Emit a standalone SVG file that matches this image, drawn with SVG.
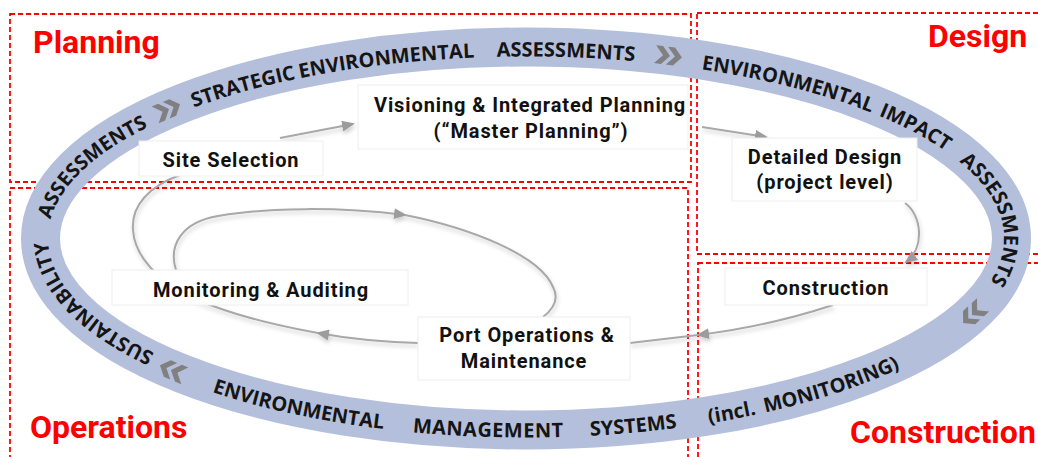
<svg xmlns="http://www.w3.org/2000/svg" xmlns:xlink="http://www.w3.org/1999/xlink" width="1038" height="457" viewBox="0 0 1038 457">
  <style>
    .zone { fill: none; stroke: #ff0000; stroke-width: 1.8; stroke-dasharray: 5 3; }
    .title { font-family: Roboto, "Liberation Sans", sans-serif; font-weight: 700; font-size: 32px; fill: #ff0000; }
    .band { fill: none; stroke: #b4bfdc; stroke-width: 39; }
    .btxt { font-family: "Open Sans", "Liberation Sans", sans-serif; font-weight: 700; font-size: 20px; fill: #151515; letter-spacing: 0px; }
    .chev { fill: #808080; }
    .conn { fill: none; stroke: #a8a8a8; stroke-width: 2; }
    .box { fill: #ffffff; stroke: #eeeeee; stroke-width: 1; }
    .lbl { font-family: Roboto, "Liberation Sans", sans-serif; font-weight: 700; font-size: 20px; fill: #111111; letter-spacing: 0.9px; text-anchor: middle; }
  </style>
  <defs>
    <marker id="arrow" markerUnits="userSpaceOnUse" markerWidth="13" markerHeight="11" refX="11" refY="5.5" orient="auto">
      <path d="M0,0 L13,5.5 L0,11 Z" fill="#9c9c9c"/>
    </marker>
    <filter id="soft" x="-10%" y="-20%" width="120%" height="150%">
      <feDropShadow dx="1" dy="3" stdDeviation="2" flood-color="#000000" flood-opacity="0.2"/>
    </filter>
    <!-- double chevron pointing along +x, centred on the origin -->
    <path id="dbl" d="M-15,-9 H-8 L0,0 L-8,9 H-15 L-7,0 Z M-3,-9 H4 L12,0 L4,9 H-3 L5,0 Z"/>
    <!-- clockwise baselines (letters face outward) -->
    <path id="cw1" d="M154.5,353 A478,182 0 0 1 76.8,176.3"/>
    <path id="cw2" d="M50.6,219.5 A478,182 0 0 1 287,80.9"/>
    <path id="cw3" d="M193.9,107.6 A478,182 0 0 1 609,59.3"/>
    <path id="cw4" d="M496.8,56.8 A478,182 0 0 1 765,80.9"/>
    <path id="cw5" d="M701.2,69.2 A478,182 0 0 1 892.1,121.5"/>
    <path id="cw6" d="M878.4,115.5 A478,182 0 0 1 987.7,191.4"/>
    <path id="cw7" d="M959.2,161.6 A478,182 0 0 1 892.1,355.5"/>
    <!-- counter-clockwise baselines along the bottom (letters face inward) -->
    <path id="cc1" d="M212.2,392 A493,199 0 0 0 440.4,434.5"/>
    <path id="cc2" d="M412.6,432.2 A493,199 0 0 0 653.6,430.7"/>
    <path id="cc3" d="M590.3,435.8 A493,199 0 0 0 772.5,410.8"/>
    <path id="cc4" d="M709.1,423.3 A493,199 0 0 0 972.8,322.6"/>
  </defs>

  <rect width="1038" height="457" fill="#ffffff"/>

  <!-- phase zones -->
  <g id="zones">
    <rect class="zone" x="10" y="14" width="681" height="168"/>
    <rect class="zone" x="10" y="188" width="678" height="290"/>
    <rect class="zone" x="697" y="13" width="350" height="241"/>
    <rect class="zone" x="698" y="263" width="350" height="215"/>
  </g>

  <!-- assessment cycle ring -->
  <g id="ring">
    <ellipse class="band" cx="526" cy="238.5" rx="485.5" ry="191.5"/>
    <text class="btxt"><textPath xlink:href="#cw1" href="#cw1">SUSTAINABILITY</textPath></text>
    <text class="btxt"><textPath xlink:href="#cw2" href="#cw2">ASSESSMENTS</textPath></text>
    <text class="btxt"><textPath xlink:href="#cw3" href="#cw3">STRATEGIC</textPath></text>
    <text class="btxt"><textPath xlink:href="#cw3" href="#cw3" startOffset="110.5">ENVIRONMENTAL</textPath></text>
    <text class="btxt"><textPath xlink:href="#cw4" href="#cw4">ASSESSMENTS</textPath></text>
    <text class="btxt"><textPath xlink:href="#cw5" href="#cw5">ENVIRONMENTAL</textPath></text>
    <text class="btxt"><textPath xlink:href="#cw6" href="#cw6">IMPACT</textPath></text>
    <text class="btxt"><textPath xlink:href="#cw7" href="#cw7">ASSESSMENTS</textPath></text>
    <text class="btxt"><textPath xlink:href="#cc1" href="#cc1">ENVIRONMENTAL</textPath></text>
    <text class="btxt" style="letter-spacing:0.5px"><textPath xlink:href="#cc2" href="#cc2">MANAGEMENT</textPath></text>
    <text class="btxt"><textPath xlink:href="#cc3" href="#cc3">SYSTEMS</textPath></text>
    <text class="btxt"><textPath xlink:href="#cc4" href="#cc4">(incl.</textPath></text>
    <text class="btxt"><textPath xlink:href="#cc4" href="#cc4" startOffset="57">MONITORING)</textPath></text>
    <use href="#dbl" xlink:href="#dbl" class="chev" transform="translate(169,109) rotate(-23)"/>
    <use href="#dbl" xlink:href="#dbl" class="chev" transform="translate(670,56) rotate(7)"/>
    <use href="#dbl" xlink:href="#dbl" class="chev" transform="translate(972,315) rotate(137.5)"/>
    <use href="#dbl" xlink:href="#dbl" class="chev" transform="translate(171,370) rotate(203)"/>
  </g>

  <!-- process flow -->
  <g id="connectors" filter="url(#soft)">
    <path class="conn" d="M280,138 L353,124" marker-end="url(#arrow)"/>
    <path class="conn" d="M702,127 L766,137" marker-end="url(#arrow)"/>
    <path class="conn" d="M905,203 C922,215 925,248 906,262" marker-end="url(#arrow)"/>
    <path class="conn" d="M833,305 Q770,326 698,335" marker-end="url(#arrow)"/>
    <path class="conn" d="M698,335 L630,343"/>
    <path class="conn" d="M418,343 C385,342 350,339 318,333" marker-end="url(#arrow)"/>
    <path class="conn" d="M318,333 C285,327 245,318 213,306 C170,292 135,262 133,230 C131,205 150,186 180,175"/>
    <path class="conn" d="M176,270 C168,245 182,222 218,216 C270,207 340,207 405,215" marker-end="url(#arrow)"/>
    <path class="conn" d="M405,215 C470,228 540,255 553,287 C560,300 552,310 543,317"/>
  </g>

  <g id="site-selection">
    <rect class="box" x="139" y="141" width="184" height="35"/>
    <text class="lbl" x="231" y="167">Site Selection</text>
  </g>
  <g id="visioning">
    <rect class="box" x="358" y="85" width="330" height="64"/>
    <text class="lbl" x="530" y="112">Visioning &amp; Integrated Planning</text>
    <text class="lbl" x="531" y="138">(“Master Planning”)</text>
  </g>
  <g id="detailed-design">
    <rect class="box" x="732" y="138" width="185" height="63"/>
    <text class="lbl" x="825" y="164">Detailed Design</text>
    <text class="lbl" x="825" y="189">(project level)</text>
  </g>
  <g id="construction">
    <rect class="box" x="725" y="268" width="202" height="37"/>
    <text class="lbl" x="826" y="295">Construction</text>
  </g>
  <g id="port-operations">
    <rect class="box" x="418" y="317" width="212" height="63"/>
    <text class="lbl" x="527" y="342">Port Operations &amp;</text>
    <text class="lbl" x="524" y="368">Maintenance</text>
  </g>
  <g id="monitoring">
    <rect class="box" x="112" y="270" width="296" height="35"/>
    <text class="lbl" x="261" y="297">Monitoring &amp; Auditing</text>
  </g>

  <!-- phase titles -->
  <g id="titles">
    <text class="title" x="33" y="53">Planning</text>
    <text class="title" x="928" y="47">Design</text>
    <text class="title" x="30" y="438">Operations</text>
    <text class="title" x="850" y="443">Construction</text>
  </g>
</svg>
